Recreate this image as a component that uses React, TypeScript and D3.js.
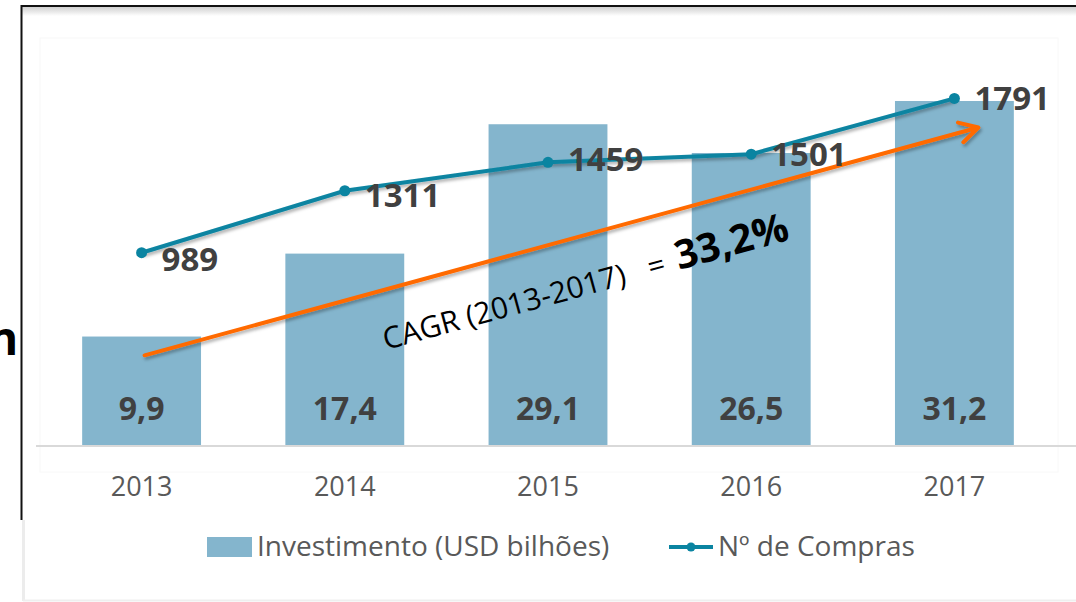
import React from 'react';
import * as d3 from 'd3';

const years = ['2013', '2014', '2015', '2016', '2017'];
const investment = [9.9, 17.4, 29.1, 26.5, 31.2];
const purchases = [989, 1311, 1459, 1501, 1791];
const seriesNames = ['Investimento (USD bilhões)', 'Nº de Compras'];
const cagrText = 'CAGR (2013-2017)';
const cagrValue = '33,2%';
// CAGR arrow annotation endpoints in (year, investment-axis value)
const cagrFrom: [string, number] = ['2013', 8.2];
const cagrTo: [string, number] = ['2017', 28.8];
// vertical label offsets for line labels (baseline below the point)
const purchaseLabelDy = [18, 16, 9, 12, 12];

const W = 1076;
const H = 602;
const BAR = '#84b5cd';
const LINE = '#0a84a1';
const ORANGE = '#ff6a00';
const FONT = '"Open Sans", "DejaVu Sans", sans-serif';

const ptFormat = d3.formatLocale({ decimal: ',', thousands: '.', grouping: [3], currency: ['', ''] }).format('.1f');

export default function App() {
  const x = d3.scaleBand<string>().domain(years).range([40, 1056]).paddingInner(0.415).paddingOuter(0.2075);
  const yBar = d3.scaleLinear().domain([0, 35]).range([446, 59]);
  const yLine = d3.scaleLinear().domain([0, 2000]).range([443, 58.2]);
  const cx = (yr: string) => (x(yr) as number) + x.bandwidth() / 2;

  const line = d3.line<number>().x((_, i) => cx(years[i])).y((d) => yLine(d));

  const ax = cx(cagrFrom[0]) + 3;
  const ay = yBar(cagrFrom[1]);
  const bx = cx(cagrTo[0]) + 24;
  const by = yBar(cagrTo[1]);
  const ang = Math.atan2(by - ay, bx - ax);
  const angDeg = (ang * 180) / Math.PI;
  const head = 21;
  const a1 = ang + Math.PI - (29 * Math.PI) / 180;
  const a2 = ang + Math.PI + (29 * Math.PI) / 180;
  const arrowPath = `M${ax},${ay}L${bx},${by}M${bx + head * Math.cos(a1)},${by + head * Math.sin(a1)}L${bx},${by}L${bx + head * Math.cos(a2)},${by + head * Math.sin(a2)}`;

  return (
    <svg width={W} height={H} style={{ position: 'absolute', left: 0, top: 0, display: 'block', background: '#fff' }}>
      <defs>
        <filter id="sh" x="-5%" y="-20%" width="110%" height="140%">
          <feDropShadow dx="1.5" dy="2.5" stdDeviation="1.5" floodColor="#000" floodOpacity="0.3" />
        </filter>
        <linearGradient id="topsh" x1="0" y1="0" x2="0" y2="1">
          <stop offset="0" stopColor="#d0d0d0" />
          <stop offset="1" stopColor="#ffffff" />
        </linearGradient>
      </defs>

      {/* frame */}
      <rect x={22} y={7} width={W - 22} height={9} fill="url(#topsh)" />
      <line x1={21} x2={W} y1={6} y2={6} stroke="#111" strokeWidth={2} />
      <line x1={21.5} x2={21.5} y1={5} y2={520} stroke="#111" strokeWidth={2} />
      <line x1={23.5} x2={23.5} y1={520} y2={601} stroke="#ececec" strokeWidth={3} />
      <line x1={23} x2={W} y1={600.5} y2={600.5} stroke="#efefef" strokeWidth={2} />
      <rect x={40} y={38} width={1018} height={434} fill="none" stroke="#f8f8f8" strokeWidth={1} />
      <text x={-12} y={355} fontFamily={FONT} fontWeight={700} fontSize={46} fill="#000">n</text>

      {/* bars */}
      {years.map((yr, i) => (
        <rect key={yr} x={x(yr)} y={yBar(investment[i])} width={x.bandwidth()} height={yBar(0) - yBar(investment[i])} fill={BAR} />
      ))}

      {/* baseline */}
      <line x1={36} x2={W} y1={446} y2={446} stroke="#d9d9d9" strokeWidth={2} />

      {/* bar labels */}
      {years.map((yr, i) => (
        <text key={yr} x={cx(yr)} y={yBar(0) - 26} textAnchor="middle" fontFamily={FONT} fontWeight={700} fontSize={32} fill="#404040">
          {ptFormat(investment[i])}
        </text>
      ))}

      {/* x tick labels */}
      {years.map((yr) => (
        <text key={yr} x={cx(yr)} y={496} textAnchor="middle" fontFamily={FONT} fontSize={27} fill="#595959">
          {yr}
        </text>
      ))}

      {/* CAGR arrow */}
      <path d={arrowPath} fill="none" stroke={ORANGE} strokeWidth={4} strokeLinecap="round" strokeLinejoin="round" filter="url(#sh)" />

      {/* line */}
      <path d={line(purchases) || ''} fill="none" stroke={LINE} strokeWidth={4} filter="url(#sh)" />
      {purchases.map((v, i) => (
        <circle key={i} cx={cx(years[i])} cy={yLine(v)} r={5.5} fill={LINE} />
      ))}
      {purchases.map((v, i) => (
        <text key={i} x={cx(years[i]) + 20} y={yLine(v) + purchaseLabelDy[i]} fontFamily={FONT} fontWeight={700} fontSize={33} fill="#404040">
          {v}
        </text>
      ))}

      {/* CAGR text */}
      <text transform={`translate(386,350) rotate(${angDeg})`} fontFamily={FONT} fontSize={30} fill="#000">
        {cagrText}
        <tspan dx={24}>=</tspan>
        <tspan dx={12} fontWeight={700} fontSize={40}>{cagrValue}</tspan>
      </text>

      {/* legend */}
      <rect x={207} y={537} width={45} height={20} fill={BAR} />
      <text x={257} y={556} fontFamily={FONT} fontSize={28} fill="#595959">{seriesNames[0]}</text>
      <line x1={669} x2={713} y1={547} y2={547} stroke={LINE} strokeWidth={4} />
      <circle cx={691} cy={547} r={4.5} fill={LINE} />
      <text x={718} y={556} fontFamily={FONT} fontSize={28} fill="#595959">{seriesNames[1]}</text>
    </svg>
  );
}
